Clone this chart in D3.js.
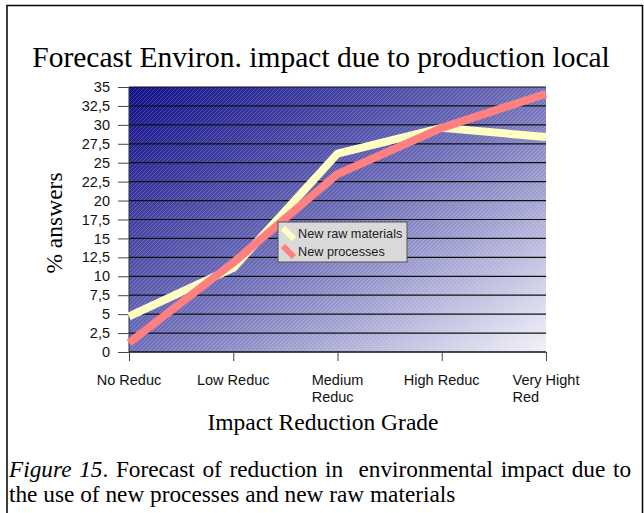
<!DOCTYPE html>
<html>
<head>
<meta charset="utf-8">
<script src="https://cdn.jsdelivr.net/npm/d3@7"></script>
<style>
  body { margin: 0; background: #fff; }
  svg { display: block; }
</style>
</head>
<body>
<div id="chart"></div>
<script>
// chart data
const categories = [["No Reduc"], ["Low Reduc"], ["Medium", "Reduc"], ["High Reduc"], ["Very Hight", "Red"]];
const rawMaterials = [4.7, 11.1, 26.2, 29.6, 28.4];
const newProcesses = [1.2, 11.8, 23.5, 29.6, 34.1];
const yTicks = [0, 2.5, 5, 7.5, 10, 12.5, 15, 17.5, 20, 22.5, 25, 27.5, 30, 32.5, 35];
const seriesNames = ["New raw materials", "New processes"];

const W = 644, H = 513;
const plot = {left: 129, right: 546, top: 87, bottom: 352};

const svg = d3.select("#chart").append("svg")
    .attr("width", W)
    .attr("height", H);

// outer frame (open at the bottom)
svg.append("path")
    .attr("d", `M7,${H} L7,5.5 L642.5,5.5 L642.5,${H}`)
    .attr("fill", "none")
    .attr("stroke", "#000")
    .attr("stroke-width", 1.5);

// scales
const x = d3.scalePoint()
    .domain(d3.range(categories.length))
    .range([plot.left, plot.right]);

const y = d3.scaleLinear()
    .domain([0, 35])
    .range([plot.bottom, plot.top]);

// background gradient + hatching
const defs = svg.append("defs");
const grad = defs.append("linearGradient")
    .attr("id", "bg")
    .attr("x1", 0).attr("y1", 0)
    .attr("x2", 1).attr("y2", 1);
grad.append("stop").attr("offset", "0%").attr("stop-color", "#10108a");
grad.append("stop").attr("offset", "50%").attr("stop-color", "#6f6fb8");
grad.append("stop").attr("offset", "100%").attr("stop-color", "#f2f2fa");

const hatch = defs.append("pattern")
    .attr("id", "hatch")
    .attr("patternUnits", "userSpaceOnUse")
    .attr("width", 4)
    .attr("height", 4);
hatch.append("path")
    .attr("d", "M-1,1 L1,-1 M0,4 L4,0 M3,5 L5,3")
    .attr("stroke", "#ffffff")
    .attr("stroke-opacity", 0.18)
    .attr("stroke-width", 1);

svg.append("rect")
    .attr("x", plot.left).attr("y", plot.top)
    .attr("width", plot.right - plot.left)
    .attr("height", plot.bottom - plot.top)
    .attr("fill", "url(#bg)");
svg.append("rect")
    .attr("x", plot.left).attr("y", plot.top)
    .attr("width", plot.right - plot.left)
    .attr("height", plot.bottom - plot.top)
    .attr("fill", "url(#hatch)");

// gridlines
svg.append("g")
    .selectAll("line")
    .data(yTicks.filter(d => d > 0))
    .join("line")
    .attr("x1", plot.left).attr("x2", plot.right)
    .attr("y1", d => y(d)).attr("y2", d => y(d))
    .attr("stroke", "#111")
    .attr("stroke-width", 1.2);

// y axis
const yAxis = d3.axisLeft(y)
    .tickValues(yTicks)
    .tickSize(11)
    .tickPadding(8)
    .tickFormat(d => String(d).replace(".", ","));

svg.append("g")
    .attr("transform", `translate(${plot.left},0)`)
    .call(yAxis)
    .call(g => g.selectAll("line, path").attr("stroke", "#444"))
    .call(g => g.select(".domain").attr("d", `M0,${plot.top}V${plot.bottom}`).attr("stroke", "#333"))
    .call(g => g.selectAll("text")
        .attr("font-family", "Liberation Sans, Arial, sans-serif")
        .attr("font-size", 14.5)
        .attr("fill", "#111"));

// x axis
const xAxis = d3.axisBottom(x)
    .tickSize(9)
    .tickFormat("");

svg.append("g")
    .attr("transform", `translate(0,${plot.bottom})`)
    .call(xAxis)
    .call(g => g.selectAll("line").attr("stroke", "#444"))
    .call(g => g.select(".domain").attr("d", `M${plot.left},0H${plot.right}`).attr("stroke", "#111").attr("stroke-width", 1.5));

// x tick labels: left-aligned block centred on tick
const xLabels = svg.append("g")
    .attr("font-family", "Liberation Sans, Arial, sans-serif")
    .attr("font-size", 14.5)
    .attr("fill", "#111");

categories.forEach((lines, i) => {
    const t = xLabels.append("text")
        .attr("y", 385);
    lines.forEach((ln, j) => {
        t.append("tspan")
            .attr("x", 0)
            .attr("dy", j === 0 ? 0 : 16.5)
            .text(ln);
    });
    const w = d3.max(t.selectAll("tspan").nodes(), n => n.getComputedTextLength());
    t.selectAll("tspan").attr("x", x(i) - w / 2);
});

// lines
const line = d3.line()
    .x((d, i) => x(i))
    .y(d => y(d));

svg.append("path")
    .datum(rawMaterials)
    .attr("d", line)
    .attr("fill", "none")
    .attr("stroke", "#ffffc4")
    .attr("stroke-width", 8)
    .attr("stroke-linejoin", "round");

svg.append("path")
    .datum(newProcesses)
    .attr("d", line)
    .attr("fill", "none")
    .attr("stroke", "#ff8080")
    .attr("stroke-width", 8)
    .attr("stroke-linejoin", "round");

// legend
const legend = svg.append("g")
    .attr("transform", "translate(278,222)");

legend.append("rect")
    .attr("width", 129)
    .attr("height", 40)
    .attr("fill", "#d9d9d9")
    .attr("stroke", "#555")
    .attr("stroke-width", 1);

const legendColors = ["#ffffc4", "#ff8080"];
seriesNames.forEach((name, i) => {
    const cy = 12 + i * 18;
    legend.append("line")
        .attr("x1", 5).attr("y1", cy - 6)
        .attr("x2", 16).attr("y2", cy + 5)
        .attr("stroke", legendColors[i])
        .attr("stroke-width", 6);
    legend.append("text")
        .attr("x", 20)
        .attr("y", cy + 4)
        .attr("font-family", "Liberation Sans, Arial, sans-serif")
        .attr("font-size", 12.7)
        .attr("fill", "#222")
        .text(name);
});

// title
svg.append("text")
    .attr("x", 321)
    .attr("y", 67)
    .attr("text-anchor", "middle")
    .attr("font-family", "Liberation Serif, Times New Roman, serif")
    .attr("font-size", 29.5)
    .attr("fill", "#000")
    .text("Forecast Environ. impact due to production local");

// axis titles
svg.append("text")
    .attr("transform", "translate(62,223) rotate(-90)")
    .attr("text-anchor", "middle")
    .attr("font-family", "Liberation Serif, Times New Roman, serif")
    .attr("font-size", 23.5)
    .text("% answers");

svg.append("text")
    .attr("x", 323)
    .attr("y", 430)
    .attr("text-anchor", "middle")
    .attr("font-family", "Liberation Serif, Times New Roman, serif")
    .attr("font-size", 23.5)
    .text("Impact Reduction Grade");

// caption
const cap = svg.append("text")
    .attr("font-family", "Liberation Serif, Times New Roman, serif")
    .attr("font-size", 23.3)
    .attr("fill", "#000");
const l1 = cap.append("tspan").attr("x", 9).attr("y", 477).attr("word-spacing", 1.8);
l1.append("tspan").attr("font-style", "italic").text("Figure 15");
l1.append("tspan").text(". Forecast of reduction in\u00a0 environmental impact due to");
cap.append("tspan").attr("x", 9).attr("y", 502)
    .text("the use of new processes and new raw materials");
</script>
</body>
</html>
